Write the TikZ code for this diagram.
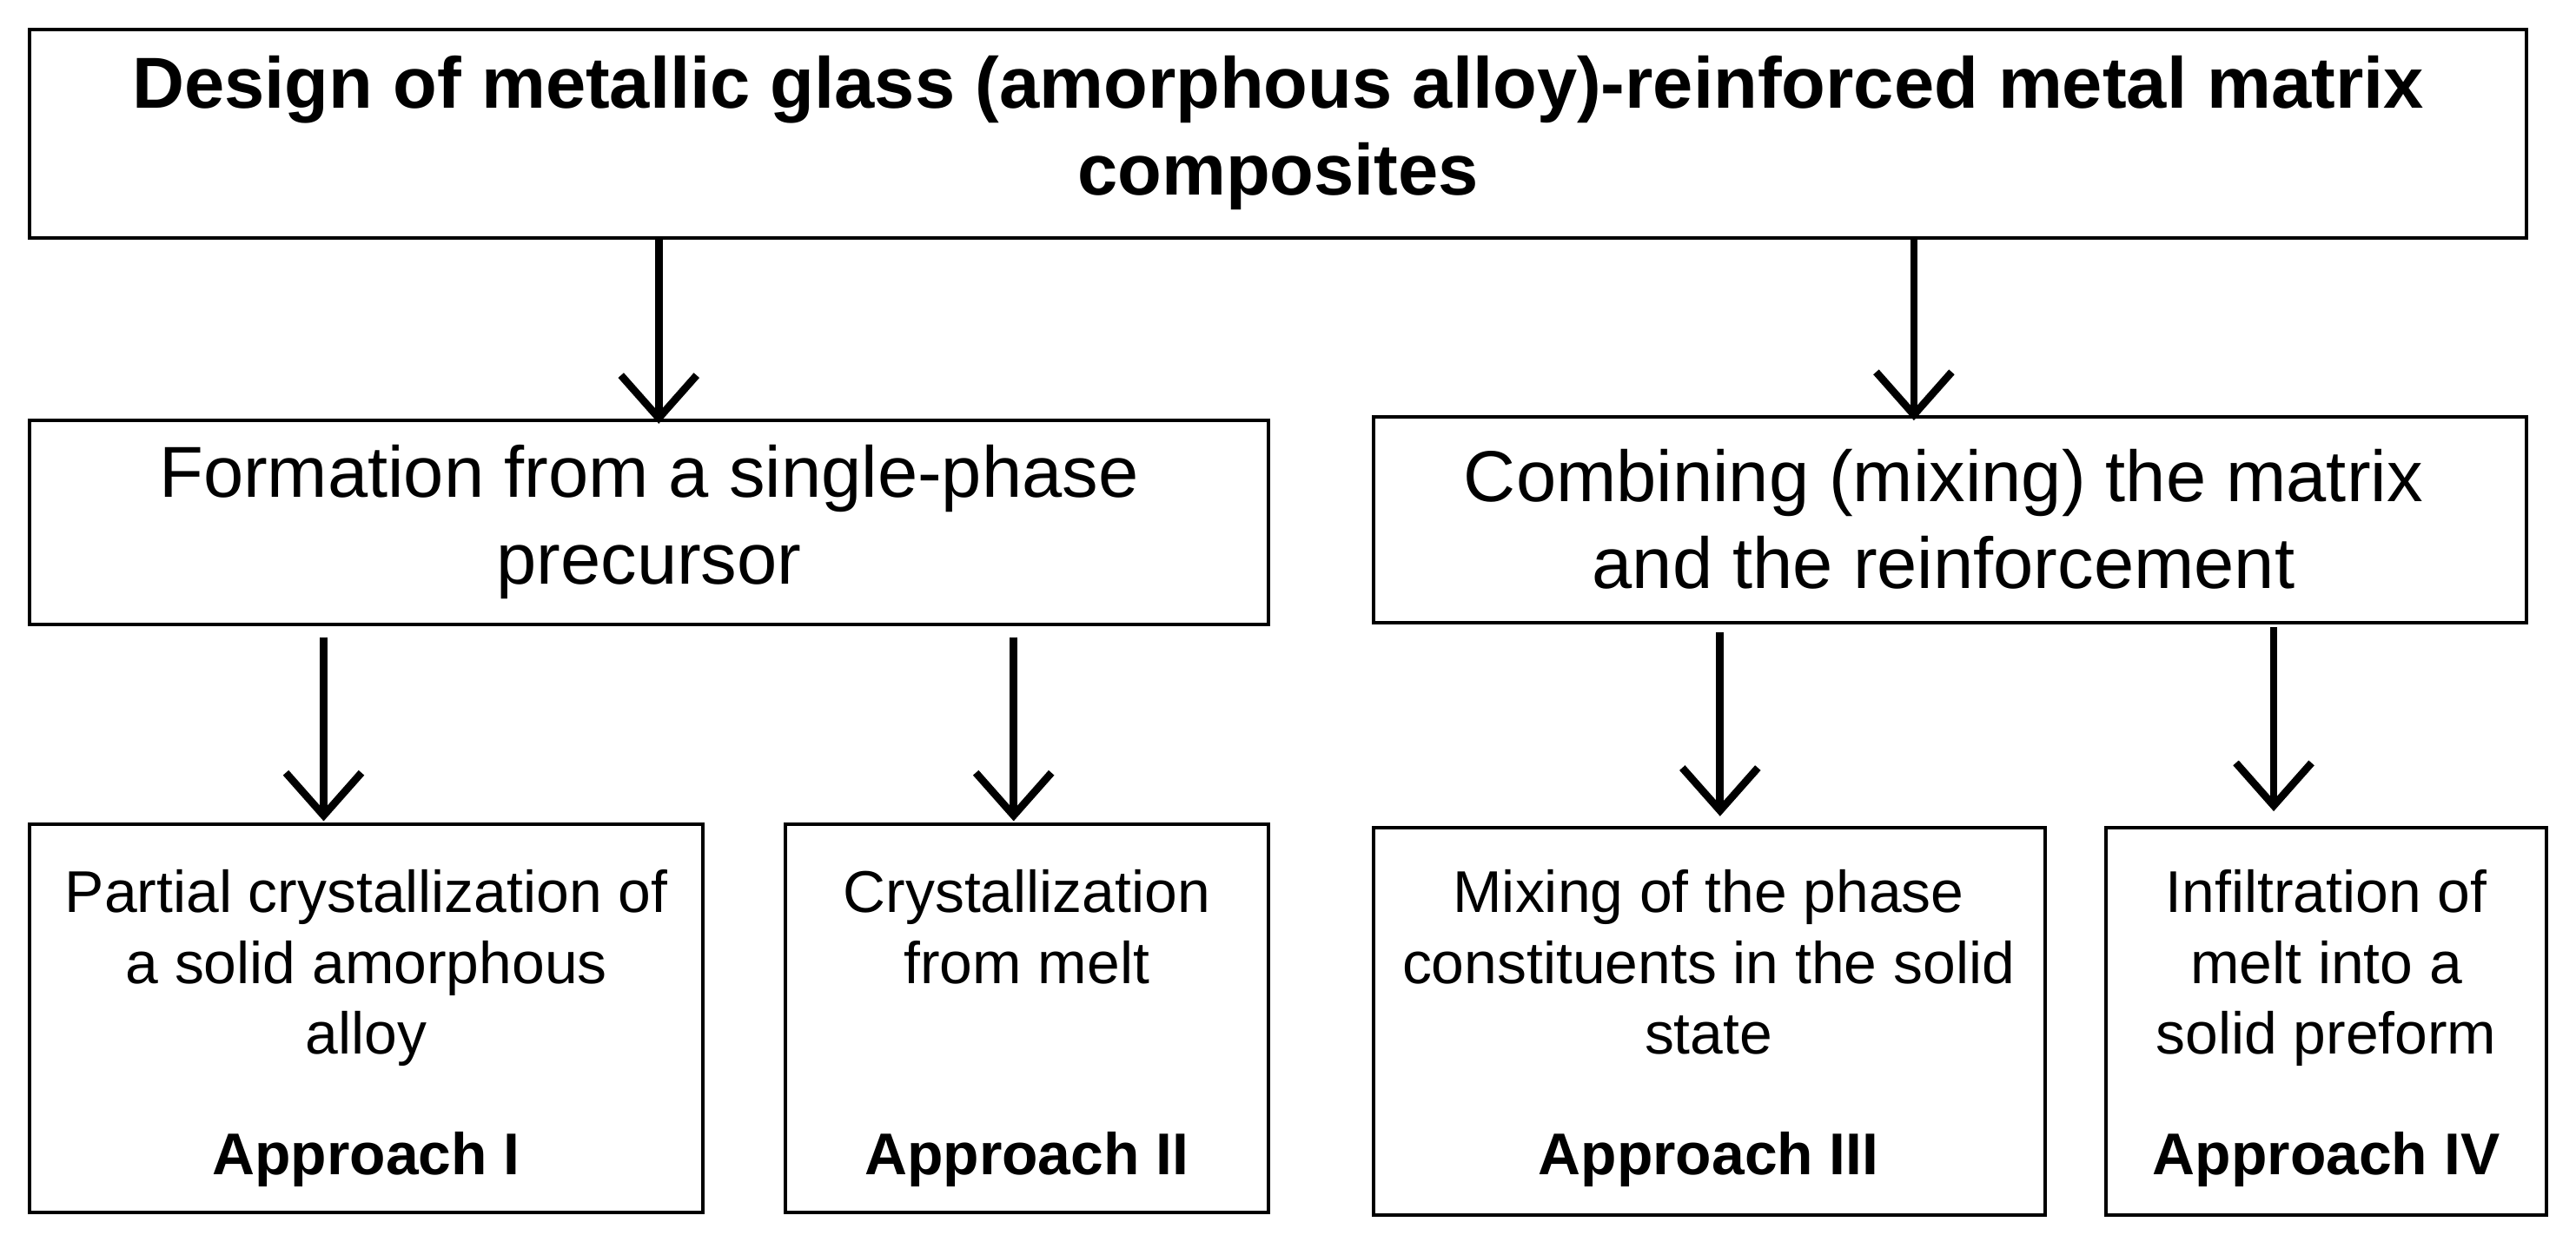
\documentclass[tikz,border=0pt]{standalone}
\usepackage{fontspec}
\setmainfont{Liberation Sans}
\usetikzlibrary{arrows.meta}
\begin{document}
\begin{tikzpicture}[x=0.01cm,y=-0.01cm,
  box/.style={draw,line width=0.6pt},
  big/.style={font=\fontsize{12.5}{15}\selectfont,align=center},
  small/.style={font=\fontsize{10.2}{12.3}\selectfont,align=center},
  arr/.style={line width=1.3pt,-{Straight Barb[length=2.6mm,width=4.6mm,line width=1.3pt]}}]
\useasboundingbox (0,0) rectangle (1568,764);
\draw[box] (18,18) rectangle (1538,145);
\node[big,font=\bfseries\fontsize{12.5}{15}\selectfont] (t) at (778,81) {Design of metallic glass (amorphous alloy)-reinforced metal matrix\\composites};
\draw[box] (18,256) rectangle (772,380);
\node[big] (ml) at (395,318) {Formation from a single-phase\\precursor};
\draw[box] (836,254) rectangle (1538,379);
\node[big] (mr) at (1183,316) {Combining (mixing) the matrix\\and the reinforcement};
\draw[box] (18,502) rectangle (428,738);
\node[small,anchor=north] (b1) at (223,517) {Partial crystallization of\\a solid amorphous\\alloy};
\node[small,font=\bfseries\fontsize{10.2}{12.3}\selectfont] (a1) at (223,706) {Approach I};
\draw[box] (478,502) rectangle (772,738);
\node[small,anchor=north] (b2) at (625,517) {Crystallization\\from melt};
\node[small,font=\bfseries\fontsize{10.2}{12.3}\selectfont] (a2) at (625,706) {Approach II};
\draw[box] (836,504) rectangle (1245,740);
\node[small,anchor=north] (b3) at (1040,517) {Mixing of the phase\\constituents in the solid\\state};
\node[small,font=\bfseries\fontsize{10.2}{12.3}\selectfont] (a3) at (1040,706) {Approach III};
\draw[box] (1282,504) rectangle (1550,740);
\node[small,anchor=north] (b4) at (1416,517) {Infiltration of\\melt into a\\solid preform};
\node[small,font=\bfseries\fontsize{10.2}{12.3}\selectfont] (a4) at (1416,706) {Approach IV};
\coordinate (s1) at (401,145); \coordinate (e1) at (401,258);
\coordinate (s2) at (1165,145); \coordinate (e2) at (1165,256);
\coordinate (s3) at (197,388); \coordinate (e3) at (197,500);
\coordinate (s4) at (617,388); \coordinate (e4) at (617,500);
\coordinate (s5) at (1047,385); \coordinate (e5) at (1047,497);
\coordinate (s6) at (1384,382); \coordinate (e6) at (1384,494);
\foreach \i in {1,...,6} \draw[arr] (s\i) -- (e\i);
\end{tikzpicture}
\end{document}
